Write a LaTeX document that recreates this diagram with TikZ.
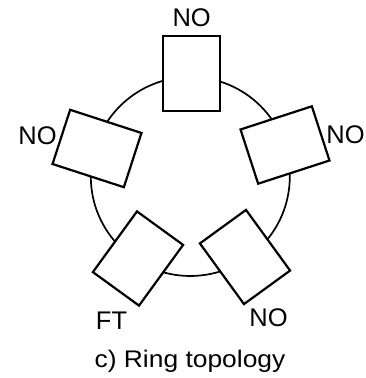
\documentclass[tikz,border=0pt]{standalone}
\usepackage{fontspec}
\setmainfont{Liberation Sans}
\begin{document}
\begin{tikzpicture}[x=1pt,y=1pt,
  station/.style={draw=black, fill=white, line width=2.2pt, minimum width=57pt, minimum height=75pt, inner sep=0pt},
  lbl/.style={font=\fontsize{25.5}{25.5}\selectfont, anchor=base, inner sep=0pt},
  ring/.style={draw=black, line width=1.7pt}]
\useasboundingbox (0,0) rectangle (366,378);
\coordinate (c) at (190.3,201.5);
\draw[ring] (c) circle (99.5);
\node[station, rotate=0] (n1) at (191.5,304.5) {};
\node[station, rotate=-72] (n2) at (285,233) {};
\node[station, rotate=72] (n3) at (97,229.5) {};
\node[station, rotate=144] (ft) at (138,119.5) {};
\node[station, rotate=-144] (n4) at (245,121) {};
\node[lbl] (l1) at (191.7,351.3) {NO};
\node[lbl] (l3) at (37.5,233) {NO};
\node[lbl] (l2) at (345.5,234) {NO};
\node[lbl] (l4) at (268.5,52) {NO};
\node[lbl] (lft) at (111.5,48) {FT};
\node[lbl, font=\fontsize{24}{24}\selectfont, xscale=1.1, transform shape] (cap) at (190,10) {c) Ring topology};
\end{tikzpicture}
\end{document}
